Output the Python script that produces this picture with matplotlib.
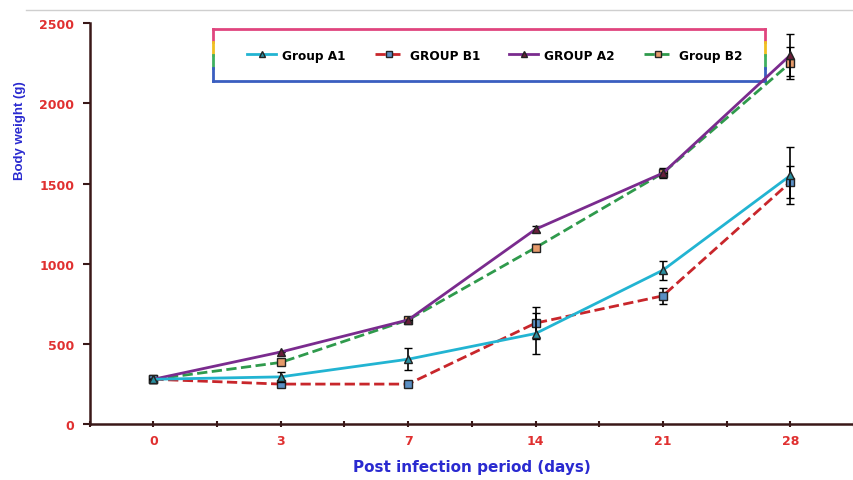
import matplotlib
matplotlib.use("Agg")
from matplotlib import pyplot as plt
from matplotlib.lines import Line2D

days = ["0", "3", "7", "14", "21", "28"]

a1 = [280, 295, 405, 565, 960, 1550]
a1_err = [0, 30, 70, 130, 60, 180]
b1 = [280, 250, 250, 630, 800, 1510]
b1_err = [0, 20, 0, 100, 50, 100]
a2 = [280, 450, 650, 1215, 1565, 2300]
a2_err = [0, 0, 0, 20, 0, 130]
b2 = [280, 385, 650, 1100, 1565, 2250]
b2_err = [0, 0, 20, 20, 30, 100]

yticks = [0, 500, 1000, 1500, 2000, 2500]

x = list(range(len(days)))

fig = plt.figure(figsize=(8.54, 4.81), dpi=100)
ax = fig.add_axes([0.105, 0.116, 0.895, 0.834])

common = dict(ecolor="black", elinewidth=1.2, capsize=3, capthick=1.2, markersize=6,
              markeredgecolor="#222222", markeredgewidth=1)
styles = {
    "Group B2": dict(color="#2f9a4c", ls="--", marker="s", markerfacecolor="#e59a6a"),
    "GROUP A2": dict(color="#7a2b8e", ls="-", marker="^", markerfacecolor="#6a1e3a"),
    "GROUP B1": dict(color="#c8262b", ls="--", marker="s", markerfacecolor="#5b8fc4"),
    "Group A1": dict(color="#22b4d2", ls="-", marker="^", markerfacecolor="#2a8fa0"),
}
ax.errorbar(x, b2, yerr=b2_err, lw=2, zorder=3, **styles["Group B2"], **common)
ax.errorbar(x, a2, yerr=a2_err, lw=2, zorder=4, **styles["GROUP A2"], **common)
ax.errorbar(x, b1, yerr=b1_err, lw=2, zorder=3, **styles["GROUP B1"], **common)
ax.errorbar(x, a1, yerr=a1_err, lw=2, zorder=4, **styles["Group A1"], **common)

ax.set_xlim(-0.5, 5.47)
ax.set_ylim(0, 2500)
ax.set_xticks(x)
ax.set_xticklabels(days)
ax.set_xticks([i + 0.5 for i in range(-1, 6)], minor=True)
ax.set_yticks(yticks)

for s in ["top", "right"]:
    ax.spines[s].set_visible(False)
for s in ["left", "bottom"]:
    ax.spines[s].set_color("#3a1818")
    ax.spines[s].set_linewidth(1.8)

ax.tick_params(axis="y", direction="out", length=5, width=1.5, color="#3a1818",
               labelcolor="#e03030", labelsize=9, pad=6)
ax.tick_params(axis="x", which="both", direction="inout", length=4, width=1.5,
               color="#3a1818", labelcolor="#e03030", labelsize=9, pad=5)
for lbl in ax.get_xticklabels() + ax.get_yticklabels():
    lbl.set_fontweight("bold")

ax.set_xlabel("Post infection period (days)", color="#2a2ad0", fontsize=11,
              fontweight="bold", labelpad=9)
# the y label is narrower in the original, so a narrower family is used
ax.set_ylabel("Body weight (g)", color="#2a2ad0", fontsize=9.5,
              fontweight="bold", family=["Liberation Sans", "DejaVu Sans"])
ax.yaxis.set_label_coords(-0.083, 0.735)

# legend in the order of the original, plain line handles
order = ["Group A1", "GROUP B1", "GROUP A2", "Group B2"]
handles = [Line2D([], [], lw=2, markersize=5, markeredgecolor="#222222", **styles[k])
           for k in order]
ax.legend(handles, order, ncol=4, frameon=False,
          loc="center", bbox_to_anchor=(0.53, 0.92),
          prop={"weight": "bold", "size": 8.7}, handlelength=2.4,
          columnspacing=2.4, handletextpad=0.5)

# rainbow-ish legend border
x0, x1, y0, y1 = 0.161, 0.883, 0.855, 0.985
ax.add_line(Line2D([x0, x1], [y1, y1], transform=ax.transAxes, color="#e0457e", lw=2, clip_on=False))
ax.add_line(Line2D([x0, x1], [y0, y0], transform=ax.transAxes, color="#3a5ec0", lw=2, clip_on=False))
side_cols = ["#e0457e", "#f0c020", "#40b060", "#3a5ec0"]
for xs in (x0, x1):
    for i, c in enumerate(side_cols):
        ya = y1 - (y1 - y0) * i / 4
        yb = y1 - (y1 - y0) * (i + 1) / 4
        ax.add_line(Line2D([xs, xs], [ya, yb], transform=ax.transAxes, color=c, lw=2, clip_on=False))

fig.add_artist(Line2D([0.03, 1.0], [0.978, 0.978], color="#cfcfcf", lw=1))

fig.savefig("out.png", dpi=100)
